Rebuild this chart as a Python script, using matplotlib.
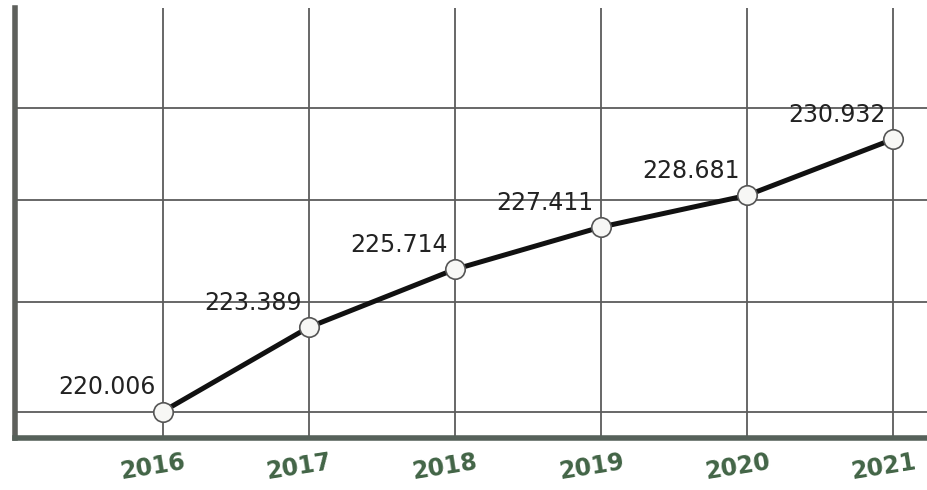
import matplotlib.pyplot as plt

years = [2016, 2017, 2018, 2019, 2020, 2021]
values = [220.006, 223.389, 225.714, 227.411, 228.681, 230.932]
year_labels = ['2016', '2017', '2018', '2019', '2020', '2021']
grid_levels = [220.0, 224.4, 228.5, 232.2]

fig = plt.figure(figsize=(9.28, 4.90), dpi=100)
ax = fig.add_axes([0.0162, 0.1061, 0.9838, 0.8776])

ax.set_xlim(2014.99, 2021.24)
ax.set_ylim(218.95, 236.2)

# grid
for lvl in grid_levels:
    ax.axhline(lvl, color='#5c5c5c', lw=1.3, zorder=1)
for yr in years:
    ax.axvline(yr, color='#5c5c5c', lw=1.3, zorder=1)

ax.plot(years, values, color='#111111', lw=3.6, zorder=3,
        marker='o', markersize=14, markerfacecolor='#f7f7f5',
        markeredgecolor='#555555', markeredgewidth=1.2)

for yr, v in zip(years, values):
    ax.annotate(f'{v:.3f}', (yr, v), xytext=(-5, 9), textcoords='offset points',
                ha='right', va='bottom', fontsize=17, color='#222222', zorder=4)

ax.set_xticks(years)
ax.set_xticklabels([])
ax.set_yticks([])
ax.tick_params(length=0)
for yr, lab in zip(years, year_labels):
    ax.annotate(lab, (yr, 218.95), xytext=(-7, -21), textcoords='offset points',
                ha='center', va='center', fontsize=17, fontweight='semibold',
                color='#426446', rotation=9, annotation_clip=False)

for side in ['top', 'right']:
    ax.spines[side].set_visible(False)
ax.spines['left'].set_color('#5e605c')
ax.spines['left'].set_linewidth(4)
ax.spines['bottom'].set_color('#56615a')
ax.spines['bottom'].set_linewidth(4)

fig.savefig('out.png', dpi=100, facecolor='white')
